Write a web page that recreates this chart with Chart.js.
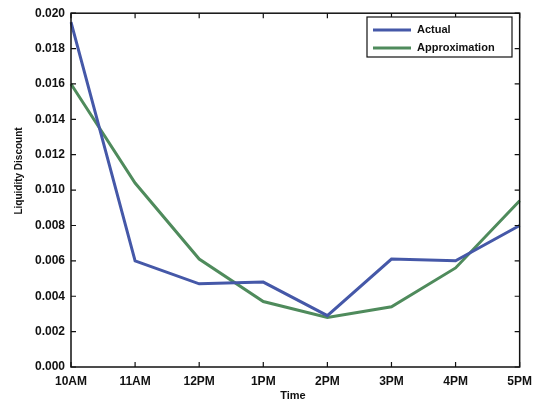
<!DOCTYPE html>
<html>
<head>
<meta charset="utf-8">
<script src="https://cdn.jsdelivr.net/npm/chart.js@4"></script>
<style>
  html, body { margin: 0; padding: 0; background: #fff; }
  #wrap { width: 539px; height: 408px; position: relative; }
</style>
</head>
<body>
<div id="wrap"><canvas id="liqChart"></canvas></div>
<script>
const times = ["10AM", "11AM", "12PM", "1PM", "2PM", "3PM", "4PM", "5PM"];
const actual = [0.0195, 0.0060, 0.0047, 0.0048, 0.0029, 0.0061, 0.0060, 0.0080];
const approximation = [0.0160, 0.0104, 0.0061, 0.0037, 0.0028, 0.0034, 0.0056, 0.0094];

const FONT = "Liberation Sans, Arial, sans-serif";

// box around the plot with inward ticks on all four sides, plus axis titles
const frame = {
  id: "frame",
  afterDatasetsDraw(chart) {
    const { ctx, chartArea: a, scales } = chart;
    ctx.save();
    ctx.strokeStyle = "#111";
    ctx.lineWidth = 1.5;
    ctx.strokeRect(a.left, a.top, a.right - a.left, a.bottom - a.top);
    ctx.lineWidth = 1.2;
    ctx.beginPath();
    scales.x.ticks.forEach((t, i) => {
      const px = scales.x.getPixelForTick(i);
      ctx.moveTo(px, a.bottom); ctx.lineTo(px, a.bottom - 5);
      ctx.moveTo(px, a.top); ctx.lineTo(px, a.top + 5);
    });
    scales.y.ticks.forEach((t) => {
      const py = scales.y.getPixelForValue(t.value);
      ctx.moveTo(a.left, py); ctx.lineTo(a.left + 5, py);
      ctx.moveTo(a.right, py); ctx.lineTo(a.right - 5, py);
    });
    ctx.stroke();

    ctx.fillStyle = "#111";
    ctx.textAlign = "center";
    ctx.textBaseline = "middle";
    ctx.font = "bold 11px " + FONT;
    ctx.fillText("Time", 293, 396);
    ctx.font = "bold 10px " + FONT;
    ctx.translate(19, 171);
    ctx.rotate(-Math.PI / 2);
    ctx.fillText("Liquidity Discount", 0, 0);
    ctx.restore();
  },
};

// boxed legend in the upper right corner
const boxLegend = {
  id: "boxLegend",
  afterDraw(chart) {
    const { ctx } = chart;
    const x = 367, y = 17, w = 145, h = 40;
    ctx.save();
    ctx.fillStyle = "#fff";
    ctx.fillRect(x, y, w, h);
    ctx.strokeStyle = "#111";
    ctx.lineWidth = 1.2;
    ctx.strokeRect(x, y, w, h);
    ctx.font = "bold 11px " + FONT;
    ctx.textBaseline = "middle";
    chart.data.datasets.forEach((ds, i) => {
      const ly = y + 13 + i * 18;
      ctx.strokeStyle = ds.borderColor;
      ctx.lineWidth = 3;
      ctx.beginPath();
      ctx.moveTo(x + 6, ly);
      ctx.lineTo(x + 44, ly);
      ctx.stroke();
      ctx.fillStyle = "#111";
      ctx.fillText(ds.label, x + 50, ly);
    });
    ctx.restore();
  },
};

new Chart(document.getElementById("liqChart"), {
  type: "line",
  data: {
    labels: times,
    datasets: [
      {
        label: "Actual",
        data: actual,
        borderColor: "#4558a8",
        borderWidth: 3,
        pointRadius: 0,
        tension: 0,
      },
      {
        label: "Approximation",
        data: approximation,
        borderColor: "#4f8b5c",
        borderWidth: 3,
        pointRadius: 0,
        tension: 0,
      },
    ],
  },
  options: {
    responsive: true,
    maintainAspectRatio: false,
    animation: false,
    layout: { padding: { top: 12, right: 19, left: 0, bottom: 0 } },
    plugins: { legend: { display: false }, tooltip: { enabled: false } },
    scales: {
      x: {
        offset: false,
        grid: { display: false, drawTicks: false },
        border: { display: false },
        ticks: { color: "#111", font: { family: FONT, size: 12, weight: "bold" }, padding: 7, maxRotation: 0 },
        afterFit(scale) { scale.height = 41; },
      },
      y: {
        min: 0,
        max: 0.02,
        grid: { display: false, drawTicks: false },
        border: { display: false },
        ticks: {
          stepSize: 0.002,
          color: "#111",
          font: { family: FONT, size: 12, weight: "bold" },
          padding: 6,
          callback: (v) => v.toFixed(3),
        },
        afterFit(scale) { scale.width = 71; },
      },
    },
  },
  plugins: [frame, boxLegend],
});
</script>
</body>
</html>
